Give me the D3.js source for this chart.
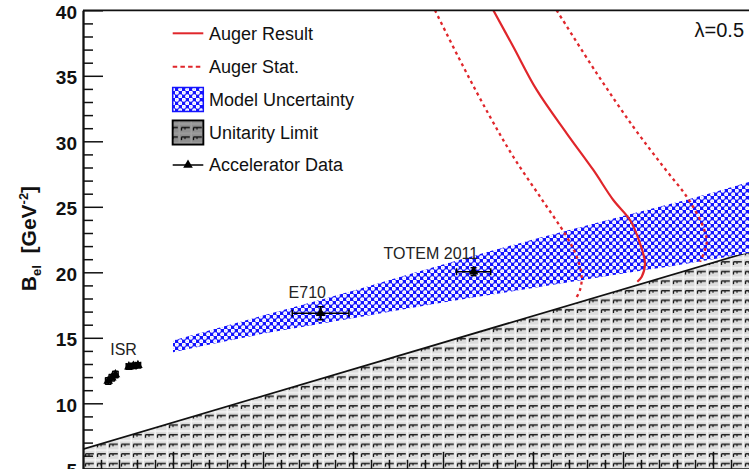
<!DOCTYPE html>
<html>
<head>
<meta charset="utf-8">
<script src="https://cdn.jsdelivr.net/npm/d3@7"></script>
<style>
  html, body { margin: 0; padding: 0; background: #fff; }
  svg { display: block; font-family: "Liberation Sans", Arial, Helvetica, sans-serif; }
</style>
</head>
<body>
<svg id="chart" width="749" height="469"></svg>
<script>
// B_el slope parameter versus inelastic cross-section (lambda = 0.5)
const bTicks = [5, 10, 15, 20, 25, 30, 35, 40];
const sigmaTicks = [40, 50, 60, 70, 80, 90, 100];

// Model uncertainty band
const bandSigma = [40, 50, 60, 70, 80, 90, 100, 104];
const bandUpper = [14.8, 16.7, 18.6, 20.6, 22.5, 24.3, 26.1, 26.9];
const bandLower = [13.9, 15.3, 16.5, 17.7, 18.8, 19.9, 21.0, 21.5];

// Unitarity limit boundary
const unitaritySigma = [30, 104];
const unitarityB = [6.5, 21.55];

// Auger result and its statistical bounds
const augerSigma = [75.59, 77.81, 80.41, 83.74, 86.70, 88.92, 90.78, 91.89, 92.44, 92.08, 91.59];
const augerB     = [40.0, 37.22, 33.92, 30.61, 27.81, 25.52, 23.99, 22.21, 20.71, 19.66, 19.28];
const statLowSigma = [69.11, 72.26, 75.22, 77.81, 80.78, 83.74, 84.86, 85.41, 85.22, 84.67];
const statLowB     = [40.0, 35.69, 31.88, 28.82, 25.77, 22.72, 21.19, 19.66, 18.65, 17.89];
const statHighSigma = [82.63, 87.08, 91.14, 94.48, 97.08, 98.74, 99.30, 99.11, 98.56];
const statHighB     = [40.0, 35.19, 31.11, 28.06, 25.77, 23.74, 22.47, 21.70, 20.81];

// Accelerator data
const isrSigma    = [32.8, 33.2, 33.6, 35.1, 35.6, 36.1];
const isrB        = [11.7, 11.95, 12.2, 12.8, 12.85, 12.9];
const isrSigmaErr = [0.3, 0.3, 0.3, 0.3, 0.3, 0.3];
const isrBErr     = [0.25, 0.25, 0.25, 0.2, 0.2, 0.2];
const expNames    = ["E710", "TOTEM 2011"];
const expSigma    = [56.4, 73.4];
const expSigmaErr = [3.15, 1.9];
const expB        = [16.87, 20.05];
const expBErr     = [0.5, 0.3];

const legendLabels = ["Auger Result", "Auger Stat.", "Model Uncertainty", "Unitarity Limit", "Accelerator Data"];

const svg = d3.select("#chart");
const pLeft = 83, pRight = 749, pTop = 10.3, pBottom = 468.8;
const x = d3.scaleLinear().domain([30, 104]).range([pLeft, pRight]);
const y = d3.scaleLinear().domain([5, 40]).range([pBottom, pTop]);

const RED = "#e0262b", BLUE = "#1414ff";

// ---- fill patterns ----
const defs = svg.append("defs");
const pModel = defs.append("pattern").attr("id", "modelFill")
  .attr("patternUnits", "userSpaceOnUse").attr("width", 7).attr("height", 7);
pModel.append("rect").attr("width", 7).attr("height", 7).attr("fill", BLUE);
[[1.75, 1.75], [5.25, 5.25]].forEach(([cx, cy]) =>
  pModel.append("circle").attr("cx", cx).attr("cy", cy).attr("r", 2.1).attr("fill", "#fff"));
[[1.75, 1.75], [5.25, 5.25]].forEach(([cx, cy]) =>
  pModel.append("circle").attr("cx", cx).attr("cy", cy).attr("r", 0.6).attr("fill", "#b4b4ff"));

const pUni = defs.append("pattern").attr("id", "unitFill")
  .attr("patternUnits", "userSpaceOnUse").attr("width", 12).attr("height", 9.6);
pUni.append("rect").attr("width", 12).attr("height", 9.6).attr("fill", "#dcdcdc");
pUni.append("path").attr("d", "M0,8.6H12M11.2,0V9.6").attr("stroke", "#f6f6f6").attr("stroke-width", 1.4);
pUni.append("path").attr("d", "M1.5,2.6H9.8M1.5,2.6V5.8").attr("stroke", "#1a1a1a").attr("stroke-width", 1.3).attr("fill", "none");
pUni.append("path").attr("d", "M5,2.6V4.6").attr("stroke", "#333").attr("stroke-width", 1.6);

defs.append("clipPath").attr("id", "plotClip").append("rect")
  .attr("x", pLeft).attr("y", pTop).attr("width", pRight - pLeft).attr("height", pBottom - pTop);

const plot = svg.append("g").attr("clip-path", "url(#plotClip)");

// ---- unitarity limit region ----
const uniPts = unitaritySigma.map((s, i) => [s, unitarityB[i]]);
const uniArea = d3.area().x(d => x(d[0])).y0(y(5)).y1(d => y(d[1]));
plot.append("path").datum(uniPts).attr("d", uniArea).attr("fill", "url(#unitFill)");
plot.append("path").datum(uniPts)
  .attr("d", d3.line().x(d => x(d[0])).y(d => y(d[1])))
  .attr("stroke", "#111").attr("stroke-width", 1.7).attr("fill", "none");

// ---- model uncertainty band ----
const bandPts = bandSigma.map((s, i) => ({ s, lo: bandLower[i], hi: bandUpper[i] }));
plot.append("path").datum(bandPts)
  .attr("d", d3.area().x(d => x(d.s)).y0(d => y(d.lo)).y1(d => y(d.hi)).curve(d3.curveMonotoneX))
  .attr("fill", "url(#modelFill)");

// ---- Auger curves ----
const curveLine = d3.line().x(d => x(d[0])).y(d => y(d[1])).curve(d3.curveCatmullRom.alpha(0.5));
const zipPts = (a, b) => a.map((v, i) => [v, b[i]]);
plot.append("path").datum(zipPts(statLowSigma, statLowB)).attr("d", curveLine)
  .attr("fill", "none").attr("stroke", RED).attr("stroke-width", 2.3).attr("stroke-dasharray", "3,3.6");
plot.append("path").datum(zipPts(statHighSigma, statHighB)).attr("d", curveLine)
  .attr("fill", "none").attr("stroke", RED).attr("stroke-width", 2.3).attr("stroke-dasharray", "3,3.6");
plot.append("path").datum(zipPts(augerSigma, augerB)).attr("d", curveLine)
  .attr("fill", "none").attr("stroke", RED).attr("stroke-width", 2.2);

// ---- accelerator points ----
const tri = d3.symbol().type(d3.symbolTriangle).size(40);
function drawPoint(g, s, b, se, be) {
  const cx = x(s), cy = y(b);
  const x0 = x(s - se), x1 = x(s + se), y0 = y(b - be), y1 = y(b + be);
  g.append("path").attr("d", `M${x0},${cy}H${x1}M${cx},${y0}V${y1}` +
      `M${x0},${cy - 3.5}V${cy + 3.5}M${x1},${cy - 3.5}V${cy + 3.5}M${cx - 3},${y1}H${cx + 3}M${cx - 3},${y0}H${cx + 3}`)
    .attr("stroke", "#000").attr("stroke-width", 1.5).attr("fill", "none");
  g.append("path").attr("d", tri).attr("transform", `translate(${cx},${cy})`).attr("fill", "#000");
}
const pts = plot.append("g");
isrSigma.forEach((s, i) => drawPoint(pts, s, isrB[i], isrSigmaErr[i], isrBErr[i]));
expSigma.forEach((s, i) => drawPoint(pts, s, expB[i], expSigmaErr[i], expBErr[i]));

// ---- point labels ----
const lab = svg.append("g").attr("font-size", 16).attr("fill", "#222");
lab.append("text").attr("x", x(isrSigma[0]) + 2).attr("y", y(isrB[0]) - 26).text("ISR");
const labOff = [[-32, -15], [-90, -13]];
expNames.forEach((n, i) => {
  lab.append("text").attr("x", x(expSigma[i]) + labOff[i][0]).attr("y", y(expB[i]) + labOff[i][1]).text(n);
});

// ---- frame and axes ----
svg.append("path").attr("d", `M${pLeft},${pTop}H${pRight}`).attr("stroke", "#111").attr("stroke-width", 1.8);

const yAxis = svg.append("g").attr("transform", `translate(${pLeft},0)`)
  .call(d3.axisLeft(y).tickValues(bTicks).tickSize(-20).tickSizeOuter(0).tickPadding(6));
const yMinor = svg.append("g").attr("transform", `translate(${pLeft},0)`)
  .call(d3.axisLeft(y).tickValues(d3.range(5, 41, 1).filter(v => !bTicks.includes(v)))
    .tickSize(-10).tickSizeOuter(0).tickFormat(""));
[yAxis, yMinor].forEach(g => {
  g.selectAll("line").attr("stroke", "#111").attr("stroke-width", 1.5);
  g.select(".domain").attr("stroke", "#111").attr("stroke-width", 1.8);
});
yAxis.selectAll("text").attr("font-size", 19).attr("font-weight", "bold").attr("fill", "#111")
  .attr("font-family", "Liberation Sans, Arial, sans-serif").attr("dy", "0.42em");

const xAxis = svg.append("g").attr("transform", `translate(0,${pBottom})`)
  .call(d3.axisBottom(x).tickValues(sigmaTicks).tickSize(-17).tickSizeOuter(0).tickFormat(""));
const xMinor = svg.append("g").attr("transform", `translate(0,${pBottom})`)
  .call(d3.axisBottom(x).tickValues(d3.range(32, 104, 2).filter(v => !sigmaTicks.includes(v)))
    .tickSize(-9).tickSizeOuter(0).tickFormat(""));
[xAxis, xMinor].forEach(g => {
  g.selectAll("line").attr("stroke", "#111").attr("stroke-width", 1.5);
  g.select(".domain").attr("stroke", "#111").attr("stroke-width", 1.8);
});

// ---- y axis title ----
const yt = svg.append("text").attr("transform", "translate(36,238.5) rotate(-90)")
  .attr("text-anchor", "middle").attr("font-size", 21).attr("font-weight", "bold").attr("fill", "#111");
yt.append("tspan").text("B");
yt.append("tspan").attr("font-size", 13).attr("dy", 5).text("el");
yt.append("tspan").attr("dy", -5).text("\u00a0\u00a0[GeV");
yt.append("tspan").attr("font-size", 13).attr("dy", -8).text("-2");
yt.append("tspan").attr("dy", 8).text("]");

// ---- lambda label ----
svg.append("text").attr("x", 744).attr("y", 37).attr("text-anchor", "end")
  .attr("font-size", 20).attr("fill", "#111").text("\u03bb=0.5");

// ---- legend ----
const leg = svg.append("g");
const lx0 = 172.7, lx1 = 203.3, ltx = 209;
const rowY = [33.3, 66.7, 99.5, 132.5, 165];
leg.append("path").attr("d", `M${lx0},${rowY[0]}H${lx1}`).attr("stroke", RED).attr("stroke-width", 2);
leg.append("path").attr("d", `M${lx0},${rowY[1]}H${lx1}`).attr("stroke", RED).attr("stroke-width", 2)
  .attr("stroke-dasharray", "4.5,3.2");
leg.append("rect").attr("x", lx0).attr("y", rowY[2] - 12).attr("width", lx1 - lx0).attr("height", 24)
  .attr("fill", "url(#modelFill)").attr("stroke", BLUE).attr("stroke-width", 1.5);
leg.append("rect").attr("x", lx0).attr("y", rowY[3] - 12).attr("width", lx1 - lx0).attr("height", 24)
  .attr("fill", "url(#unitFill)").attr("stroke", "#000").attr("stroke-width", 2);
leg.append("rect").attr("x", lx0 + 1).attr("y", rowY[3] - 11).attr("width", lx1 - lx0 - 2).attr("height", 22)
  .attr("fill", "#000").attr("opacity", 0.35);
leg.append("path").attr("d", `M${lx0},${rowY[4]}H${lx1}`).attr("stroke", "#000").attr("stroke-width", 1.5);
leg.append("path").attr("d", tri).attr("transform", `translate(${(lx0 + lx1) / 2},${rowY[4]})`).attr("fill", "#000");
legendLabels.forEach((t, i) => {
  leg.append("text").attr("x", ltx).attr("y", rowY[i] + 6.3).attr("font-size", 18).attr("fill", "#111").text(t);
});
</script>
</body>
</html>
